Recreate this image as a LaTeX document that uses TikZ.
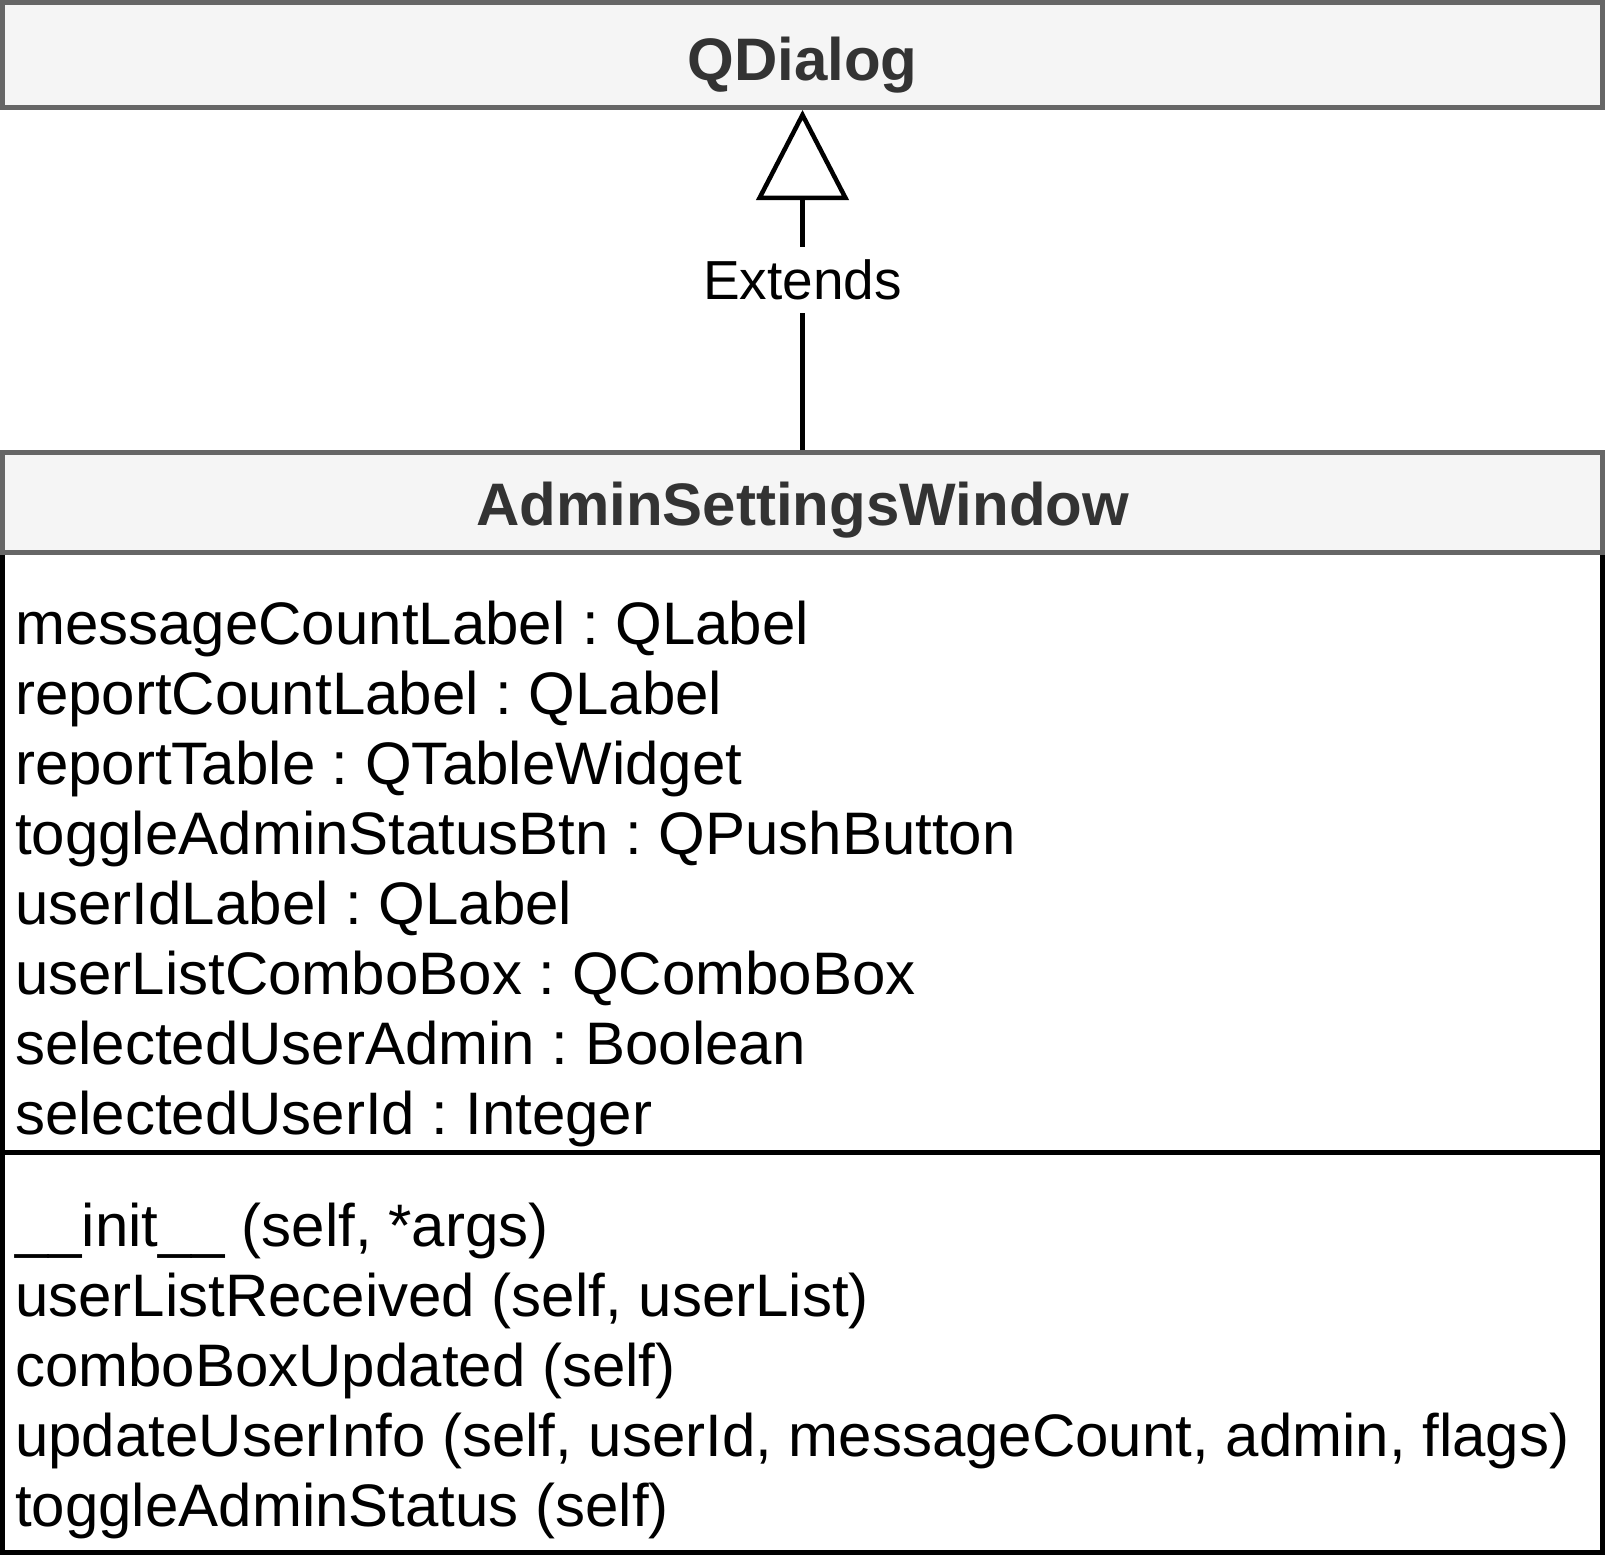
\documentclass[tikz,border=0pt]{standalone}
\usepackage{fontspec}
\setmainfont{Liberation Sans}
\usetikzlibrary{arrows.meta}
\definecolor{hdrstroke}{HTML}{666666}
\definecolor{hdrfill}{HTML}{F5F5F5}
\definecolor{hdrtext}{HTML}{333333}
\frenchspacing
\tikzset{
  hdrbox/.style={draw=hdrstroke, fill=hdrfill, line width=5pt, rectangle,
    minimum width=1600pt, inner sep=0pt},
  bodybox/.style={draw=black, line width=5pt, rectangle, minimum width=1600pt,
    minimum height=1000pt, inner sep=0pt},
  titletxt/.style={anchor=base, inner sep=0pt, text=hdrtext,
    font=\fontsize{60}{70}\selectfont\bfseries},
  rowtxt/.style={anchor=base west, inner sep=0pt, text=black,
    font=\fontsize{60}{70}\selectfont\frenchspacing},
  lbl/.style={fill=white, inner xsep=2pt, inner ysep=13pt, text=black,
    font=\fontsize{55}{64}\selectfont},
  ext/.style={draw=black, line width=4.5pt,
    -{Triangle[open, length=90pt, width=92pt, line width=4.5pt]}},
  divider/.style={draw=black, line width=5pt}
}
\begin{document}
\begin{tikzpicture}[x=1pt,y=1pt]
\useasboundingbox (0,0) rectangle (1605,-1555);
% QDialog
\node[hdrbox, minimum height=105pt] (qdialog) at (802.5,-55) {};
\node[titletxt] (qdialogtitle) at (802.5,-80) {QDialog};
% AdminSettingsWindow body and header
\node[bodybox] (aswbody) at (802.5,-1052.5) {};
\node[hdrbox, minimum height=100pt] (asw) at (802.5,-502.5) {};
\node[titletxt] (aswtitle) at (802.5,-525) {AdminSettingsWindow};
% divider
\coordinate (divL) at (2.5,-1152.5);
\coordinate (divR) at (1602.5,-1152.5);
\draw[divider] (divL) -- (divR);
% attributes
\node[rowtxt] (a1) at (15,-644) {messageCountLabel : QLabel};
\node[rowtxt] (a2) at (15,-714) {reportCountLabel : QLabel};
\node[rowtxt] (a3) at (15,-784) {reportTable : QTableWidget};
\node[rowtxt] (a4) at (15,-854) {toggleAdminStatusBtn : QPushButton};
\node[rowtxt] (a5) at (15,-924) {userIdLabel : QLabel};
\node[rowtxt] (a6) at (15,-994) {userListComboBox : QComboBox};
\node[rowtxt] (a7) at (15,-1064) {selectedUserAdmin : Boolean};
\node[rowtxt] (a8) at (15,-1134) {selectedUserId : Integer};
% methods
\node[rowtxt] (m1) at (15,-1246) {\_\_init\_\_ (self, *args)};
\node[rowtxt] (m2) at (15,-1316) {userListReceived (self, userList)};
\node[rowtxt] (m3) at (15,-1386) {comboBoxUpdated (self)};
\node[rowtxt] (m4) at (15,-1456) {updateUserInfo (self, userId, messageCount, admin, flags)};
\node[rowtxt] (m5) at (15,-1526) {toggleAdminStatus (self)};
% inheritance
\draw[ext] (asw.north) -- node[lbl] (extlbl) {Extends} (qdialog.south);
\end{tikzpicture}
\end{document}
